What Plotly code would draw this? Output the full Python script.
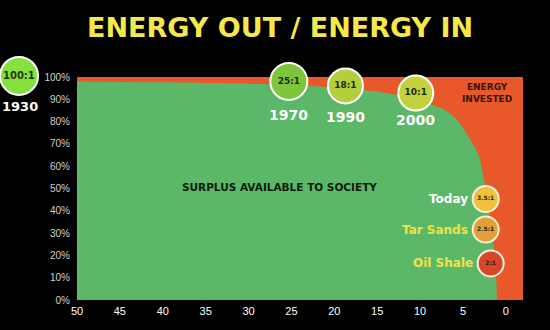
import plotly.graph_objects as go

# Net-energy "cliff": share of energy left over as a function of EROI
eroi = [50, 40, 30, 25, 20, 15, 12, 10, 8.8, 7, 6, 5, 4.5, 4, 3.4, 3, 2.6, 2.2, 1.8, 1.5, 1.25, 1.1, 1.05]
surplus_pct = [98, 97.6, 97, 96.4, 95.3, 93.4, 91.5, 89.8, 88, 85, 82, 77.5, 74, 71, 67, 63, 55, 47, 36, 27, 18, 8, 0]

# 1930 milestone sits off the left edge of the scale (paper position)
first_label, first_year = "100:1", "1930"
first_pos = (-0.13, 1.005)

# Historical milestones sitting on top of the curve
hist_labels = ["25:1", "18:1", "10:1"]
hist_years = ["1970", "1990", "2000"]
hist_x = [25.3, 18.7, 10.5]
hist_y = [98, 96, 92.8]
hist_colors = ["#7cc63a", "#b5cf3c", "#c3d23c"]
hist_size = [37, 35, 35]
year_gap = [34, 31, 27]

# Current and unconventional sources near the cliff
src_labels = ["3.5:1", "2.5:1", "2:1"]
src_names = ["Today", "Tar Sands", "Oil Shale"]
src_x = [2.35, 2.35, 1.77]
src_y = [45.3, 31.6, 16.4]
src_colors = ["#efc23a", "#e2a03a", "#d8462a"]
src_name_colors = ["#ffffff", "#efe24a", "#efe24a"]

x_ticks = [50, 45, 40, 35, 30, 25, 20, 15, 10, 5, 0]
y_ticks = [0, 10, 20, 30, 40, 50, 60, 70, 80, 90, 100]

GREEN = "#5cb869"
ORANGE = "#e8582a"
BOLD = "DejaVu Sans, sans-serif"

fig = go.Figure()

# energy invested: full background band
fig.add_trace(go.Scatter(x=[50, -2], y=[100, 100], fill="tozeroy", mode="lines",
                         line=dict(width=0), fillcolor=ORANGE, hoverinfo="skip"))
# surplus available to society
fig.add_trace(go.Scatter(x=eroi, y=surplus_pct, fill="tozeroy", mode="lines",
                         line=dict(width=0, shape="spline", smoothing=0.5),
                         fillcolor=GREEN, hoverinfo="skip"))

fig.add_trace(go.Scatter(
    x=hist_x, y=hist_y, mode="markers+text", text=hist_labels,
    textposition="middle center", cliponaxis=False,
    marker=dict(size=hist_size, color=hist_colors, opacity=1,
                line=dict(color="white", width=2)),
    textfont=dict(family=BOLD, size=9, color="#1c2a10", weight="bold"),
    hoverinfo="skip"))

fig.add_trace(go.Scatter(
    x=src_x, y=src_y, mode="markers+text", text=src_labels,
    textposition="middle center", cliponaxis=False,
    marker=dict(size=26, color=src_colors, opacity=1, line=dict(color="#f6eed8", width=2)),
    textfont=dict(family=BOLD, size=6, color="#2a1a0a", weight="bold"),
    hoverinfo="skip"))

shapes = [dict(type="circle", xref="paper", yref="paper", xsizemode="pixel", ysizemode="pixel",
               xanchor=first_pos[0], yanchor=first_pos[1], x0=-19, x1=19, y0=-19, y1=19,
               fillcolor="#86e040", line=dict(color="white", width=2), layer="above")]

annotations = [
    dict(x=first_pos[0], y=first_pos[1], xref="paper", yref="paper", text=first_label,
         xanchor="center", yanchor="middle", showarrow=False,
         font=dict(family=BOLD, size=10, color="#1c3a10", weight="bold")),
    dict(x=first_pos[0], y=first_pos[1], xref="paper", yref="paper", text=first_year,
         xanchor="center", yanchor="middle", showarrow=False, yshift=-31, xshift=1,
         font=dict(family=BOLD, size=13, color="white", weight="bold")),
]
for yr, x, y, g in zip(hist_years, hist_x, hist_y, year_gap):
    annotations.append(dict(x=x, y=y, xref="x", yref="y", text=yr, showarrow=False,
                            yshift=-g,
                            font=dict(family=BOLD, size=14, color="white", weight="bold")))
for name, x, y, c in zip(src_names, src_x, src_y, src_name_colors):
    annotations.append(dict(x=x, y=y, xref="x", yref="y", text=name, showarrow=False,
                            xanchor="right", xshift=-16,
                            font=dict(family=BOLD, size=12, color=c, weight="bold")))

annotations.append(dict(x=26.4, y=50.5, xref="x", yref="y", text="SURPLUS AVAILABLE TO SOCIETY",
                        showarrow=False,
                        font=dict(family=BOLD, size=10.5, color="#0c1a0c", weight="bold")))
annotations.append(dict(x=2.2, y=93, xref="x", yref="y", text="ENERGY<br>INVESTED",
                        showarrow=False,
                        font=dict(family=BOLD, size=9, color="#3a1408", weight="bold")))
annotations.append(dict(x=0.455, y=1, xref="paper", yref="paper", yanchor="bottom",
                        xanchor="center", text="ENERGY OUT / ENERGY IN", showarrow=False, yshift=32,
                        font=dict(family=BOLD, size=27, color="#f4e84a", weight="bold")))

fig.update_layout(
    width=550, height=330,
    margin=dict(l=77, r=27, t=77, b=30),
    paper_bgcolor="black", plot_bgcolor="black",
    showlegend=False,
    shapes=shapes,
    annotations=annotations,
    xaxis=dict(range=[50, -2], tickvals=x_ticks, showgrid=False, zeroline=False,
               showline=False, ticks="", ticklabelstandoff=3,
               tickfont=dict(family="Liberation Sans, sans-serif", size=11, color="white")),
    yaxis=dict(range=[0, 100], tickvals=y_ticks, ticktext=[f"{v}%" for v in y_ticks],
               showgrid=False, zeroline=False, showline=False, ticks="", ticklabelstandoff=6,
               tickfont=dict(family="Liberation Sans, sans-serif", size=10, color="#d0d0d0")),
)

fig.write_html("out.html")
